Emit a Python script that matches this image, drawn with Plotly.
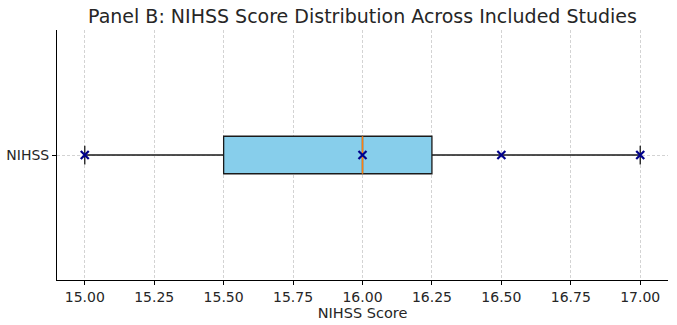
import plotly.graph_objects as go

# Data
category = "NIHSS"
study_scores = [15.0, 16.0, 16.5, 17.0]
q1_val = [15.5]
median_val = [16.0]
q3_val = [16.25]
lower_val = [15.0]
upper_val = [17.0]
x_ticks = [15.0, 15.25, 15.5, 15.75, 16.0, 16.25, 16.5, 16.75, 17.0]
x_tick_labels = ["15.00", "15.25", "15.50", "15.75", "16.00", "16.25", "16.50", "16.75", "17.00"]

ypos = 1
box_w = 0.15
font_family = "DejaVu Sans"

fig = go.Figure()

fig.add_trace(go.Box(
    y=[ypos], orientation="h",
    q1=q1_val, median=median_val, q3=q3_val,
    lowerfence=lower_val, upperfence=upper_val,
    width=box_w, whiskerwidth=0.5,
    fillcolor="#87ceeb", line=dict(color="#1a1a1a", width=1.3),
    boxpoints=False, showlegend=False, hoverinfo="skip",
))

# orange median line
fig.add_trace(go.Scatter(
    x=[median_val[0], median_val[0]], y=[ypos - box_w / 2, ypos + box_w / 2],
    mode="lines", line=dict(color="#ff7f0e", width=1.5),
    showlegend=False, hoverinfo="skip",
))

# study points
fig.add_trace(go.Scatter(
    x=study_scores, y=[ypos] * len(study_scores),
    mode="markers",
    marker=dict(symbol="x-thin", size=8, color="#00008b",
                line=dict(color="#00008b", width=2.2)),
    showlegend=False,
))

fig.update_layout(
    width=677, height=325,
    margin=dict(l=57, r=9, t=30, b=45),
    paper_bgcolor="white", plot_bgcolor="white",
    font=dict(family=font_family, size=14, color="#262626"),
    title=dict(text="Panel B: NIHSS Score Distribution Across Included Studies",
               x=0.5, xref="paper", xanchor="center", y=0.95, yanchor="middle",
               font=dict(size=19, color="#262626")),
)

fig.update_xaxes(
    range=[14.9, 17.1], tickvals=x_ticks, ticktext=x_tick_labels,
    showline=True, linecolor="black", linewidth=1, mirror=False,
    ticks="outside", ticklen=4, tickcolor="black",
    showgrid=True, gridcolor="#d3d3d3", griddash="3px,2px", gridwidth=0.8,
    zeroline=False, automargin=False, tickfont=dict(size=14),
    title=dict(text="NIHSS Score", font=dict(size=14.5), standoff=2),
)
fig.update_yaxes(
    range=[0.5, 1.5], tickvals=[ypos], ticktext=[category],
    showline=True, linecolor="black", linewidth=1,
    ticks="outside", ticklen=4, tickcolor="black",
    showgrid=True, gridcolor="#d3d3d3", griddash="3px,2px", gridwidth=0.8,
    zeroline=False, automargin=False, tickfont=dict(size=14),
)

fig.write_html("out.html")
